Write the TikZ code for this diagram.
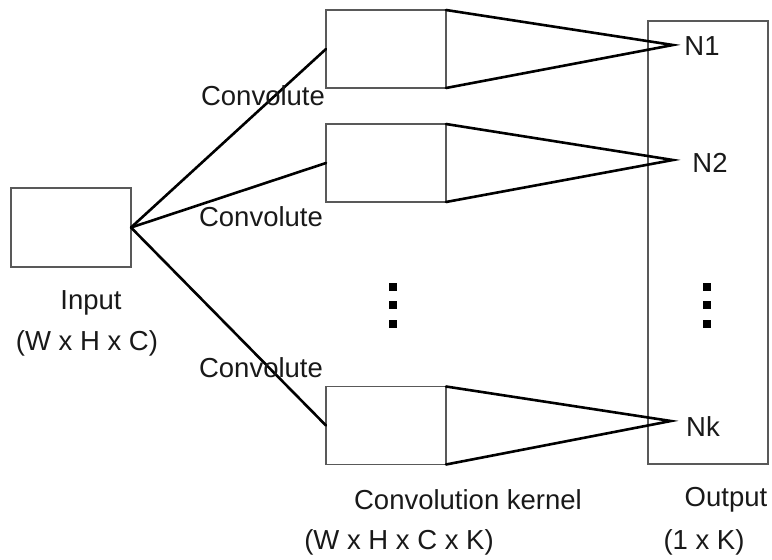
\documentclass[tikz,border=0pt]{standalone}
\usepackage{fontspec}
\setmainfont{Liberation Sans}
\begin{document}
\begin{tikzpicture}[x=1pt,y=-1pt,
  box/.style={draw=black!65,line width=1.3pt,minimum width=120pt,inner sep=0pt,outer sep=0pt},
  kbox/.style={box,minimum height=78pt},
  conv/.style={line width=2.6pt,black,line cap=round},
  lbl/.style={font=\fontsize{27.5}{31}\selectfont,text=black!90,inner sep=0pt,anchor=center},
  dotsq/.style={fill=black,minimum size=7.5pt,inner sep=0pt}]
\useasboundingbox (0,0) rectangle (772,560);
\node[box,minimum height=79pt] (in) at (71,227.5) {};
\node[kbox] (k1) at (386,49) {};
\node[kbox] (k2) at (386,163) {};
\node[kbox] (k3) at (386,425.5) {};
\node[box,minimum width=120pt,minimum height=443pt] (out) at (708,242.5) {};
\coordinate (a1) at (673,45);
\coordinate (a2) at (673,160);
\coordinate (a3) at (671,421);
\draw[conv] (in.east) -- (k1.west);
\draw[conv] (in.east) -- (k2.west);
\draw[conv] (in.east) -- (k3.west);
\draw[conv,line join=miter] (k1.north east) -- (a1) -- (k1.south east);
\draw[conv,line join=miter] (k2.north east) -- (a2) -- (k2.south east);
\draw[conv,line join=miter] (k3.north east) -- (a3) -- (k3.south east);
\node[lbl] (n1) at (702,46) {N1};
\node[lbl] (n2) at (710,163) {N2};
\node[lbl] (nk) at (703,427) {Nk};
\node[lbl] (c1) at (263,96) {Convolute};
\node[lbl] (c2) at (261,217) {Convolute};
\node[lbl] (c3) at (261,368) {Convolute};
\node[lbl] (il) at (91,303) {Input};
\node[lbl] (id) at (87,343) {(W x H x C)};
\node[lbl] (kl) at (468,500) {Convolution kernel};
\node[lbl] (kd) at (399,542) {(W x H x C x K)};
\node[lbl] (ol) at (726,500) {Output};
\node[lbl] (od) at (704,542) {(1 x K)};
\foreach \yy [count=\i] in {287,305,324}{
  \node[dotsq] (kd\i) at (393,\yy) {};
  \node[dotsq] (od\i) at (707,\yy) {};
}
\end{tikzpicture}
\end{document}
